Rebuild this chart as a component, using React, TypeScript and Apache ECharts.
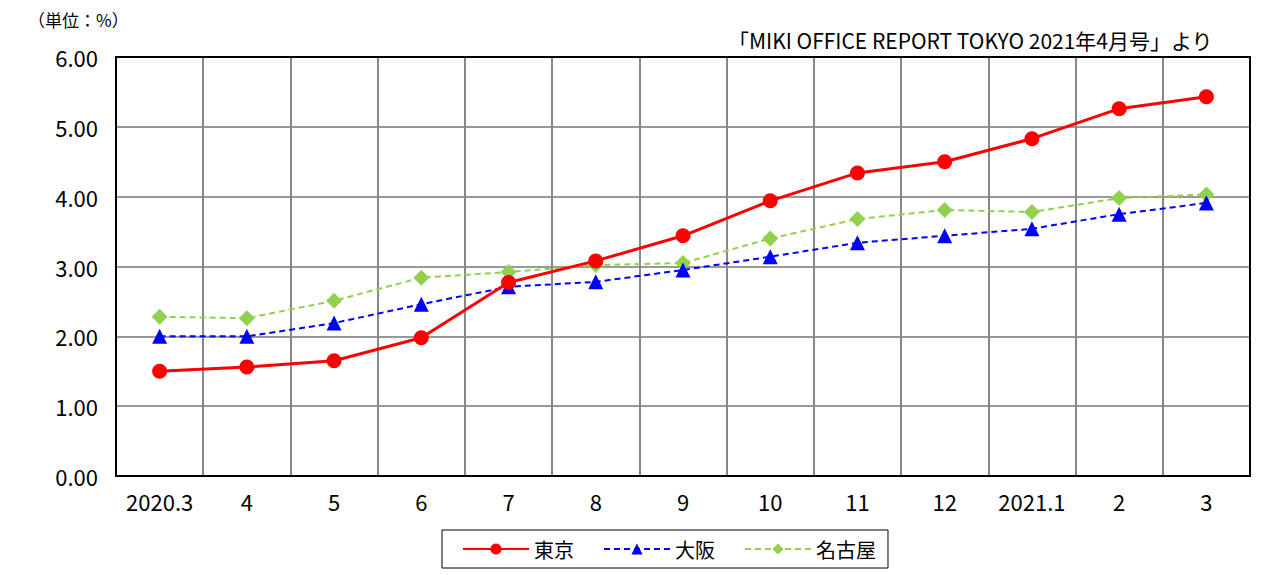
import React, { useEffect, useRef } from "react";
import * as echarts from "echarts";

const categories = ["2020.3", "4", "5", "6", "7", "8", "9", "10", "11", "12", "2021.1", "2", "3"];
const tokyo = [1.5, 1.56, 1.65, 1.98, 2.77, 3.08, 3.44, 3.94, 4.34, 4.5, 4.83, 5.26, 5.43];
const osaka = [2.0, 2.0, 2.19, 2.46, 2.71, 2.78, 2.95, 3.14, 3.34, 3.44, 3.54, 3.75, 3.91];
const nagoya = [2.28, 2.26, 2.51, 2.84, 2.92, 3.02, 3.05, 3.4, 3.68, 3.81, 3.78, 3.98, 4.03];
const unitLabel = "（単位：%）";
const sourceLabel = "「MIKI OFFICE REPORT TOKYO 2021年4月号」より";

const FONT = "'Noto Sans CJK JP', 'Noto Sans', sans-serif";

export default function App() {
  const ref = useRef<HTMLDivElement>(null);
  useEffect(() => {
    if (!ref.current) return;
    const chart = echarts.init(ref.current, undefined, { renderer: "svg" });
    chart.setOption({
      animation: false,
      backgroundColor: "#ffffff",
      textStyle: { fontFamily: FONT },
      grid: { left: 116, right: 13, top: 57, bottom: 99, containLabel: false },
      graphic: [
        { type: "line", shape: { x1: 7.5, y1: 0, x2: 7.5, y2: 575 }, style: { stroke: "#808080", lineWidth: 1 } },
        { type: "text", left: 28, top: 11, style: { text: unitLabel, font: `17px ${FONT}`, fill: "#000" } },
        { type: "text", right: 50, top: 29, style: { text: sourceLabel, font: `21px ${FONT}`, fill: "#000" } },
        { type: "rect", shape: { x: 116, y: 57, width: 1134, height: 419 }, style: { fill: "none", stroke: "#000", lineWidth: 2 }, z: 10 },
      ],
      legend: {
        bottom: 7,
        left: 442,
        itemWidth: 66,
        itemHeight: 14,
        itemGap: 29,
        padding: [9, 12, 9, 20],
        borderColor: "#000",
        borderWidth: 1,
        textStyle: { fontSize: 20, color: "#000", fontFamily: FONT },
        data: ["東京", "大阪", "名古屋"],
      },
      xAxis: {
        type: "category",
        data: categories,
        boundaryGap: true,
        axisLine: { lineStyle: { color: "#000", width: 2 } },
        axisTick: { show: false },
        axisLabel: { interval: 0, fontSize: 22, color: "#000", margin: 14, fontFamily: FONT },
        splitLine: { show: true, interval: 0, lineStyle: { color: "#888", width: 2 } },
      },
      yAxis: {
        type: "value",
        min: 0,
        max: 6,
        interval: 1,
        axisLine: { show: true, lineStyle: { color: "#000", width: 2 } },
        axisTick: { show: false },
        axisLabel: { fontSize: 22, color: "#000", margin: 18, fontFamily: FONT, formatter: (v: number) => v.toFixed(2) },
        splitLine: { show: true, lineStyle: { color: "#777", width: 1.5 } },
      },
      series: [
        {
          name: "東京",
          type: "line",
          data: tokyo,
          symbol: "circle",
          symbolSize: 15,
          itemStyle: { color: "#ff0000" },
          lineStyle: { color: "#ff0000", width: 3 },
          z: 5,
        },
        {
          name: "大阪",
          type: "line",
          data: osaka,
          symbol: "triangle",
          symbolSize: 15,
          itemStyle: { color: "#0000ff" },
          lineStyle: { color: "#0000ff", width: 2, type: [6, 4] },
          z: 4,
        },
        {
          name: "名古屋",
          type: "line",
          data: nagoya,
          symbol: "diamond",
          symbolSize: 16,
          itemStyle: { color: "#92d050" },
          lineStyle: { color: "#92d050", width: 2, type: [6, 4] },
          z: 3,
        },
      ],
    });
    return () => chart.dispose();
  }, []);
  return <div ref={ref} style={{ width: 1263, height: 575, margin: "-8px 0 0 -8px" }} />;
}
